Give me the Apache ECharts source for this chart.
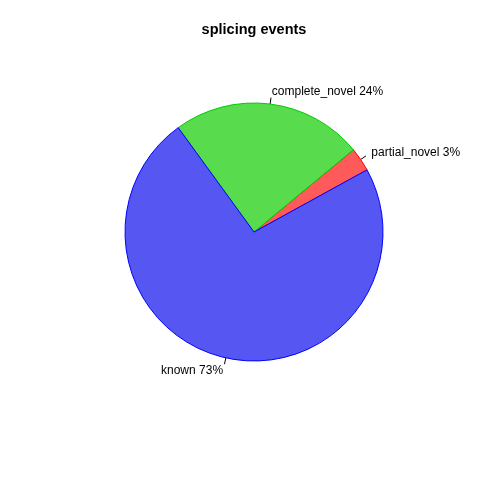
<!DOCTYPE html>
<html><head><meta charset="utf-8">
<script src="https://cdn.jsdelivr.net/npm/echarts@6/dist/echarts.min.js"></script>
<style>html,body{margin:0;padding:0;background:#fff}#c{width:480px;height:480px}</style>
</head><body><div id="c"></div>
<script>
var categories = ['partial_novel', 'complete_novel', 'known'];
var values = [3, 24, 73];
var fillColors = ['#ff5a5a', '#58dc4e', '#5656f2'];
var borderColors = ['#ff0000', '#00cc00', '#0000ff'];
var titleText = 'splicing events';

var cx = 254, cy = 232, R = 129, startAngle = 28.8;
var total = values.reduce(function(a,b){return a+b;},0);
function midAngle(i){
  var acc = 0; for (var k=0;k<i;k++) acc += values[k];
  return (startAngle + (acc + values[i]/2)/total*360) * Math.PI/180;
}
var chart = echarts.init(document.getElementById('c'));
chart.setOption({
  animation: false,
  graphic: [{
    type: 'text', x: 254, y: 30,
    style: { text: titleText, textAlign: 'center', textVerticalAlign: 'middle',
      font: 'bold 14.5px "Liberation Sans", Arial, sans-serif', fill: '#000' }
  }],
  series: [{
    type: 'pie',
    center: [cx, cy],
    radius: [0, R],
    startAngle: startAngle,
    clockwise: false,
    data: categories.map(function(c,i){
      return { name: c, value: values[i],
        itemStyle: { color: fillColors[i], borderColor: borderColors[i], borderWidth: 1 } };
    }),
    label: {
      show: true,
      formatter: function(p){ return p.name + ' ' + Math.round(p.value/total*100) + '%'; },
      fontFamily: 'Liberation Sans, Arial, sans-serif', fontSize: 12, color: '#000'
    },
    labelLine: { show: true, length: 7, length2: 0, lineStyle: { color: '#000', width: 1 } },
    labelLayout: function(p){
      var a = midAngle(p.dataIndex);
      var c = Math.cos(a), s = Math.sin(a);
      return {
        x: cx + 1.1*R*c, y: cy - 1.1*R*s,
        align: c >= 0 ? 'left' : 'right', verticalAlign: 'middle',
        labelLinePoints: [[cx + R*c, cy - R*s], [cx + 1.05*R*c, cy - 1.05*R*s], [cx + 1.05*R*c, cy - 1.05*R*s]]
      };
    }
  }]
});
</script></body></html>
